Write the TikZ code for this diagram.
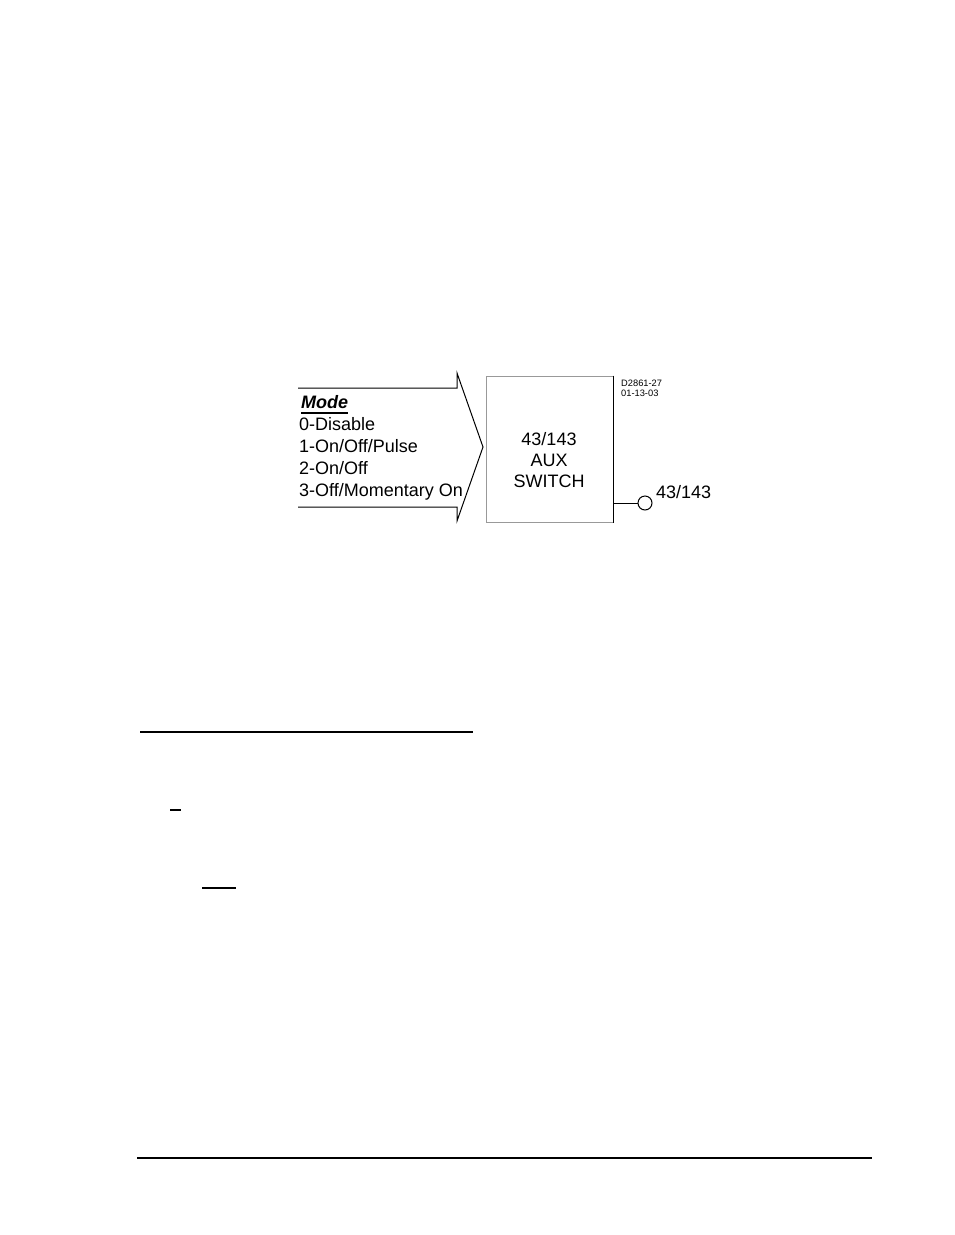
\documentclass[tikz,border=0pt]{standalone}
\usepackage{fontspec}
\setmainfont{Liberation Sans}
\begin{document}
\begin{tikzpicture}[x=1pt,y=-1pt,
    lbl/.style={inner sep=0pt,font=\fontsize{18}{21}\selectfont},
    stamp/.style={inner sep=0pt,font=\fontsize{9.3}{10}\selectfont},
    pagerule/.style={line width=1.4pt}]
            \useasboundingbox (0,0) rectangle (954,1235);

            % mode input arrow
            \draw[line width=1pt] (298,388) -- (457,388) -- (457,373) -- (483,447)
                -- (457,521) -- (457,507) -- (298,507);

            \node[lbl,anchor=base west] (mode) at (301,408) {\textbf{\textit{Mode}}};
            \draw[line width=1.3pt] ([yshift=-5pt]mode.base west) -- ([yshift=-5pt]mode.base east);
            \foreach \txt [count=\i] in {0-Disable,1-On/Off/Pulse,2-On/Off,3-Off/Momentary On}
                \node[lbl,anchor=base west] (mode\i) at (299,408+22*\i) {\txt};

            % aux switch block
            \node[draw=black!40,line width=1pt,minimum width=127pt,minimum height=146pt,inner sep=0pt] (aux) at (549.5,449) {};
            \draw[line width=1pt] (aux.north east) -- (aux.south east);
            \foreach \txt [count=\i] in {43/143,AUX,SWITCH}
                \node[lbl,anchor=base] (aux\i) at (549,424+21*\i) {\txt};

            \node[stamp,anchor=base west] (dwg) at (621,386) {D2861-27};
            \node[stamp,anchor=base west] (date) at (621,396.5) {01-13-03};

            % output
            \node[circle,draw,line width=1pt,minimum size=14pt,inner sep=0pt] (out) at (645,503) {};
            \draw[line width=1pt] (aux.east |- out.west) -- (out.west);
            \node[lbl,anchor=base west] (outlbl) at (656,498) {43/143};

            % page rules
            \draw[pagerule] (140,732) -- (473,732);
            \draw[pagerule] (170,810) -- (181,810);
            \draw[pagerule] (202,888) -- (236,888);
            \draw[pagerule] (137,1158) -- (872,1158);
        \end{tikzpicture}
\end{document}
